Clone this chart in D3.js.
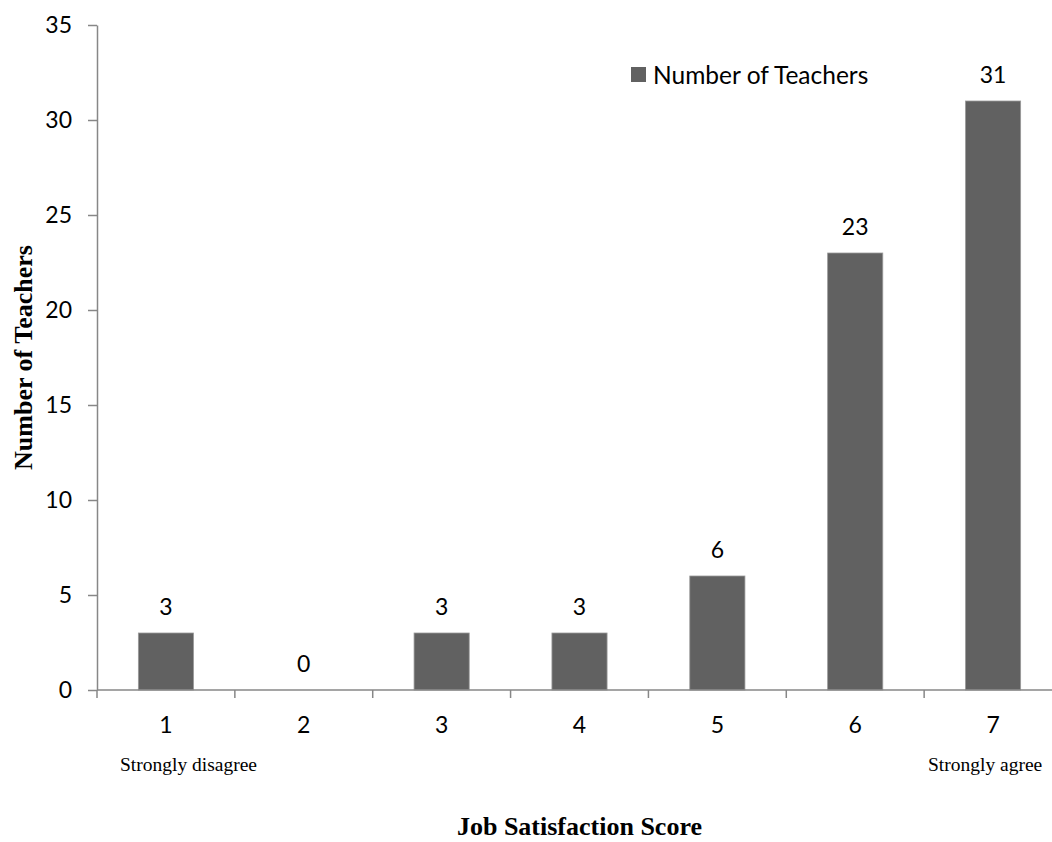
<!DOCTYPE html>
<html>
<head>
<meta charset="utf-8">
<script src="https://cdn.jsdelivr.net/npm/d3@7"></script>
<style>
  html, body { margin: 0; padding: 0; background: #fff; }
  svg { display: block; }
</style>
</head>
<body>
<svg id="chart" width="1052" height="842"></svg>
<script>
// Job satisfaction scores (1–7) and how many teachers gave each score
const scores = ["1", "2", "3", "4", "5", "6", "7"];
const teacherCounts = [3, 0, 3, 3, 6, 23, 31];
const yTicks = [0, 5, 10, 15, 20, 25, 30, 35];
const seriesName = "Number of Teachers";
const scaleEnds = { low: "Strongly disagree", high: "Strongly agree" };

const svg = d3.select("#chart");

const plotLeft = 97, plotRight = 1062, plotTop = 25, plotBottom = 690;

const axisColor = "#878787";
const barColor = "#616161";
const labelFont = "Lato, 'Open Sans', sans-serif";
const titleFont = "'Liberation Serif', 'Times New Roman', serif";
const numSize = 23;

const x = d3.scaleBand()
  .domain(scores)
  .range([plotLeft, plotRight])
  .paddingInner(0.6)
  .paddingOuter(0.3);

const y = d3.scaleLinear()
  .domain([0, 35])
  .range([plotBottom, plotTop]);

// Y axis
const yAxis = d3.axisLeft(y)
  .tickValues(yTicks)
  .tickSize(9)
  .tickPadding(16)
  .tickSizeOuter(0);

const gy = svg.append("g")
  .attr("transform", `translate(${plotLeft},0)`)
  .call(yAxis);
gy.select(".domain").attr("stroke", axisColor).attr("stroke-width", 1.5);
gy.selectAll(".tick line").attr("stroke", axisColor).attr("stroke-width", 1.5);
gy.selectAll(".tick text")
  .attr("font-family", labelFont)
  .attr("font-size", numSize)
  .attr("fill", "#000");

// Bars
const step = x.step();
const half = (step - x.bandwidth()) / 2;
const rows = scores.map((s, i) => ({ s, v: teacherCounts[i] }));

svg.append("g")
  .selectAll("rect")
  .data(rows)
  .join("rect")
  .attr("x", d => x(d.s))
  .attr("width", x.bandwidth())
  .attr("y", d => y(d.v))
  .attr("height", d => y(0) - y(d.v))
  .attr("fill", barColor)
  .attr("stroke", "#9a9a9a")
  .attr("stroke-width", 0.8);

// Value labels above each bar
svg.append("g")
  .selectAll("text")
  .data(rows)
  .join("text")
  .attr("x", d => x(d.s) + x.bandwidth() / 2)
  .attr("y", d => y(d.v) - 18)
  .attr("text-anchor", "middle")
  .attr("font-family", labelFont)
  .attr("font-size", numSize)
  .attr("fill", "#000")
  .text(d => d.v);

// X axis: baseline with tick marks at category boundaries
const gx = svg.append("g");
gx.append("line")
  .attr("x1", plotLeft).attr("x2", plotRight)
  .attr("y1", y(0)).attr("y2", y(0))
  .attr("stroke", axisColor).attr("stroke-width", 1.5);

const boundaries = scores.map(s => x(s) - half)
  .concat([x(scores[scores.length - 1]) + x.bandwidth() + half]);
gx.selectAll("line.tick")
  .data(boundaries)
  .join("line")
  .attr("class", "tick")
  .attr("x1", d => d).attr("x2", d => d)
  .attr("y1", y(0)).attr("y2", y(0) + 8)
  .attr("stroke", axisColor).attr("stroke-width", 1.5);

gx.selectAll("text.cat")
  .data(scores)
  .join("text")
  .attr("class", "cat")
  .attr("x", d => x(d) + x.bandwidth() / 2)
  .attr("y", y(0) + 43)
  .attr("text-anchor", "middle")
  .attr("font-family", labelFont)
  .attr("font-size", numSize)
  .attr("fill", "#000")
  .text(d => d);

// Scale end descriptors
svg.append("text")
  .attr("x", 120).attr("y", 771)
  .attr("font-family", titleFont)
  .attr("font-size", 19.5)
  .attr("fill", "#000")
  .text(scaleEnds.low);

svg.append("text")
  .attr("x", 928).attr("y", 771)
  .attr("font-family", titleFont)
  .attr("font-size", 19.5)
  .attr("fill", "#000")
  .text(scaleEnds.high);

// Axis titles
svg.append("text")
  .attr("x", (plotLeft + plotRight) / 2)
  .attr("y", 835)
  .attr("text-anchor", "middle")
  .attr("font-family", titleFont)
  .attr("font-weight", "bold")
  .attr("font-size", 26)
  .attr("fill", "#000")
  .text("Job Satisfaction Score");

svg.append("text")
  .attr("transform", `translate(32,${(242 + 473) / 2}) rotate(-90)`)
  .attr("text-anchor", "middle")
  .attr("font-family", titleFont)
  .attr("font-weight", "bold")
  .attr("font-size", 26)
  .attr("fill", "#000")
  .text(seriesName);

// Legend
const legend = svg.append("g").attr("transform", "translate(631,67)");
legend.append("rect")
  .attr("width", 15).attr("height", 15)
  .attr("fill", barColor);
legend.append("text")
  .attr("x", 22).attr("y", 7.5)
  .attr("dominant-baseline", "central")
  .attr("font-family", labelFont)
  .attr("font-size", 24.5)
  .attr("fill", "#000")
  .text(seriesName);
</script>
</body>
</html>
